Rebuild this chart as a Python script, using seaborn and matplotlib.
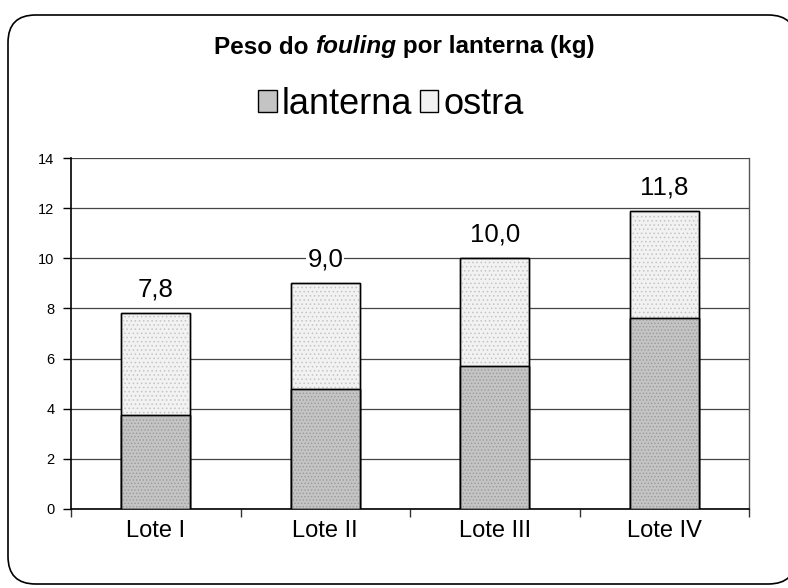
import numpy as np
import pandas as pd
import seaborn as sns
import matplotlib.pyplot as plt
from matplotlib.patches import FancyBboxPatch, Patch, Rectangle

# Dados
lotes = ['Lote I', 'Lote II', 'Lote III', 'Lote IV']
lanterna = [3.75, 4.78, 5.7, 7.62]
total = [7.82, 9.0, 10.0, 11.87]
rotulos = ['7,8', '9,0', '10,0', '11,8']

sns.set_theme(style='white')
plt.rcParams['font.family'] = ['Liberation Sans', 'DejaVu Sans']
plt.rcParams['text.color'] = 'black'
plt.rcParams['xtick.color'] = 'black'
plt.rcParams['ytick.color'] = 'black'
plt.rcParams['hatch.linewidth'] = 0.6

cor_lanterna = '#c4c4c4'
cor_ostra = '#f2f2f2'
hatch_cor = {cor_lanterna: '#9a9a9a', cor_ostra: '#c4c4c4'}
hatch_tipo = {cor_lanterna: '.....', cor_ostra: '....'}

fig = plt.figure(figsize=(7.88, 5.88), dpi=100)

# moldura arredondada (cortada a direita)
moldura = FancyBboxPatch((8 / 788, 4 / 588), 1.0, 1 - 19 / 588,
                         boxstyle='round,pad=0,rounding_size=0.035',
                         transform=fig.transFigure, facecolor='white',
                         edgecolor='black', linewidth=1.2, mutation_aspect=788 / 588,
                         zorder=-10)
fig.patches.append(moldura)

ax = fig.add_axes([71 / 788, 1 - 509 / 588, 678 / 788, 351 / 588])
ax.set_facecolor('none')
ax.set_zorder(2)

df = pd.DataFrame({'lote': lotes, 'lanterna': lanterna, 'total': total})
sns.barplot(data=df, x='lote', y='total', color=cor_ostra, saturation=1,
            width=0.41, edgecolor='black', linewidth=1, ax=ax, zorder=3)
sns.barplot(data=df, x='lote', y='lanterna', color=cor_lanterna, saturation=1,
            width=0.41, edgecolor='black', linewidth=1, ax=ax, zorder=4)

# textura pontilhada por cima das barras
import matplotlib.colors as mcolors
for p in list(ax.patches):
    fc = mcolors.to_hex(p.get_facecolor())
    if fc in hatch_cor:
        ax.add_patch(Rectangle(p.get_xy(), p.get_width(), p.get_height(), fill=False,
                               hatch=hatch_tipo[fc], edgecolor=hatch_cor[fc], linewidth=0,
                               zorder=p.get_zorder() + 0.5))
        outline = Rectangle(p.get_xy(), p.get_width(), p.get_height(), fill=False,
                            edgecolor='black', linewidth=1, zorder=p.get_zorder() + 0.6)
        ax.add_patch(outline)

for i, (t, r) in enumerate(zip(total, rotulos)):
    ax.annotate(r, (i, t), xytext=(0, 17), textcoords='offset points',
                ha='center', va='center', fontsize=18.5, color='black',
                bbox=dict(facecolor='white', edgecolor='none', pad=1), zorder=6)

ax.set_ylim(0, 14)
ax.set_xlim(-0.5, 3.5)
ax.set_yticks(np.arange(0, 15, 2))
ax.yaxis.grid(True, color='#444444', linewidth=0.9, zorder=0)
ax.set_axisbelow(True)
ax.set_xlabel('')
ax.set_ylabel('')

ax.set_xticks(np.arange(-0.5, 4, 1), minor=True)
ax.tick_params(axis='x', which='major', length=0, labelsize=17, pad=8)
ax.tick_params(axis='x', which='minor', length=6, width=1, color='#333333', direction='out', bottom=True)
ax.tick_params(axis='y', length=6, width=1, labelsize=10.5, pad=6, direction='out', left=True)

for s in ['left', 'bottom']:
    ax.spines[s].set_color('black')
    ax.spines[s].set_linewidth(1.2)
ax.spines['right'].set_color('#555555')
ax.spines['right'].set_linewidth(1)
ax.spines['top'].set_visible(False)

# titulo com parte em italico
titulo_partes = [('Peso do ', 'normal'), ('fouling', 'italic'), (' por lanterna (kg)', 'normal')]
renderer = fig.canvas.get_renderer()
larguras = []
objs = []
for txt, estilo in titulo_partes:
    o = fig.text(0, 1 - 47 / 588, txt, fontsize=17.5, fontweight='bold', style=estilo,
                 ha='left', va='center')
    objs.append(o)
    larguras.append(o.get_window_extent(renderer).width)
x0 = (404 - sum(larguras) / 2) / 788
for o, w in zip(objs, larguras):
    o.set_x(x0)
    x0 += w / 788

handles = [Patch(facecolor=cor_lanterna, edgecolor='black', linewidth=1, label='lanterna'),
           Patch(facecolor=cor_ostra, edgecolor='black', linewidth=1, label='ostra')]
fig.legend(handles=handles, loc='center', bbox_to_anchor=(391 / 788, 1 - 104 / 588),
           ncol=2, frameon=False, fontsize=26, handlelength=0.5, handleheight=0.55,
           handletextpad=0.15, columnspacing=0.2, borderpad=0)

fig.savefig('out.png', dpi=100)
